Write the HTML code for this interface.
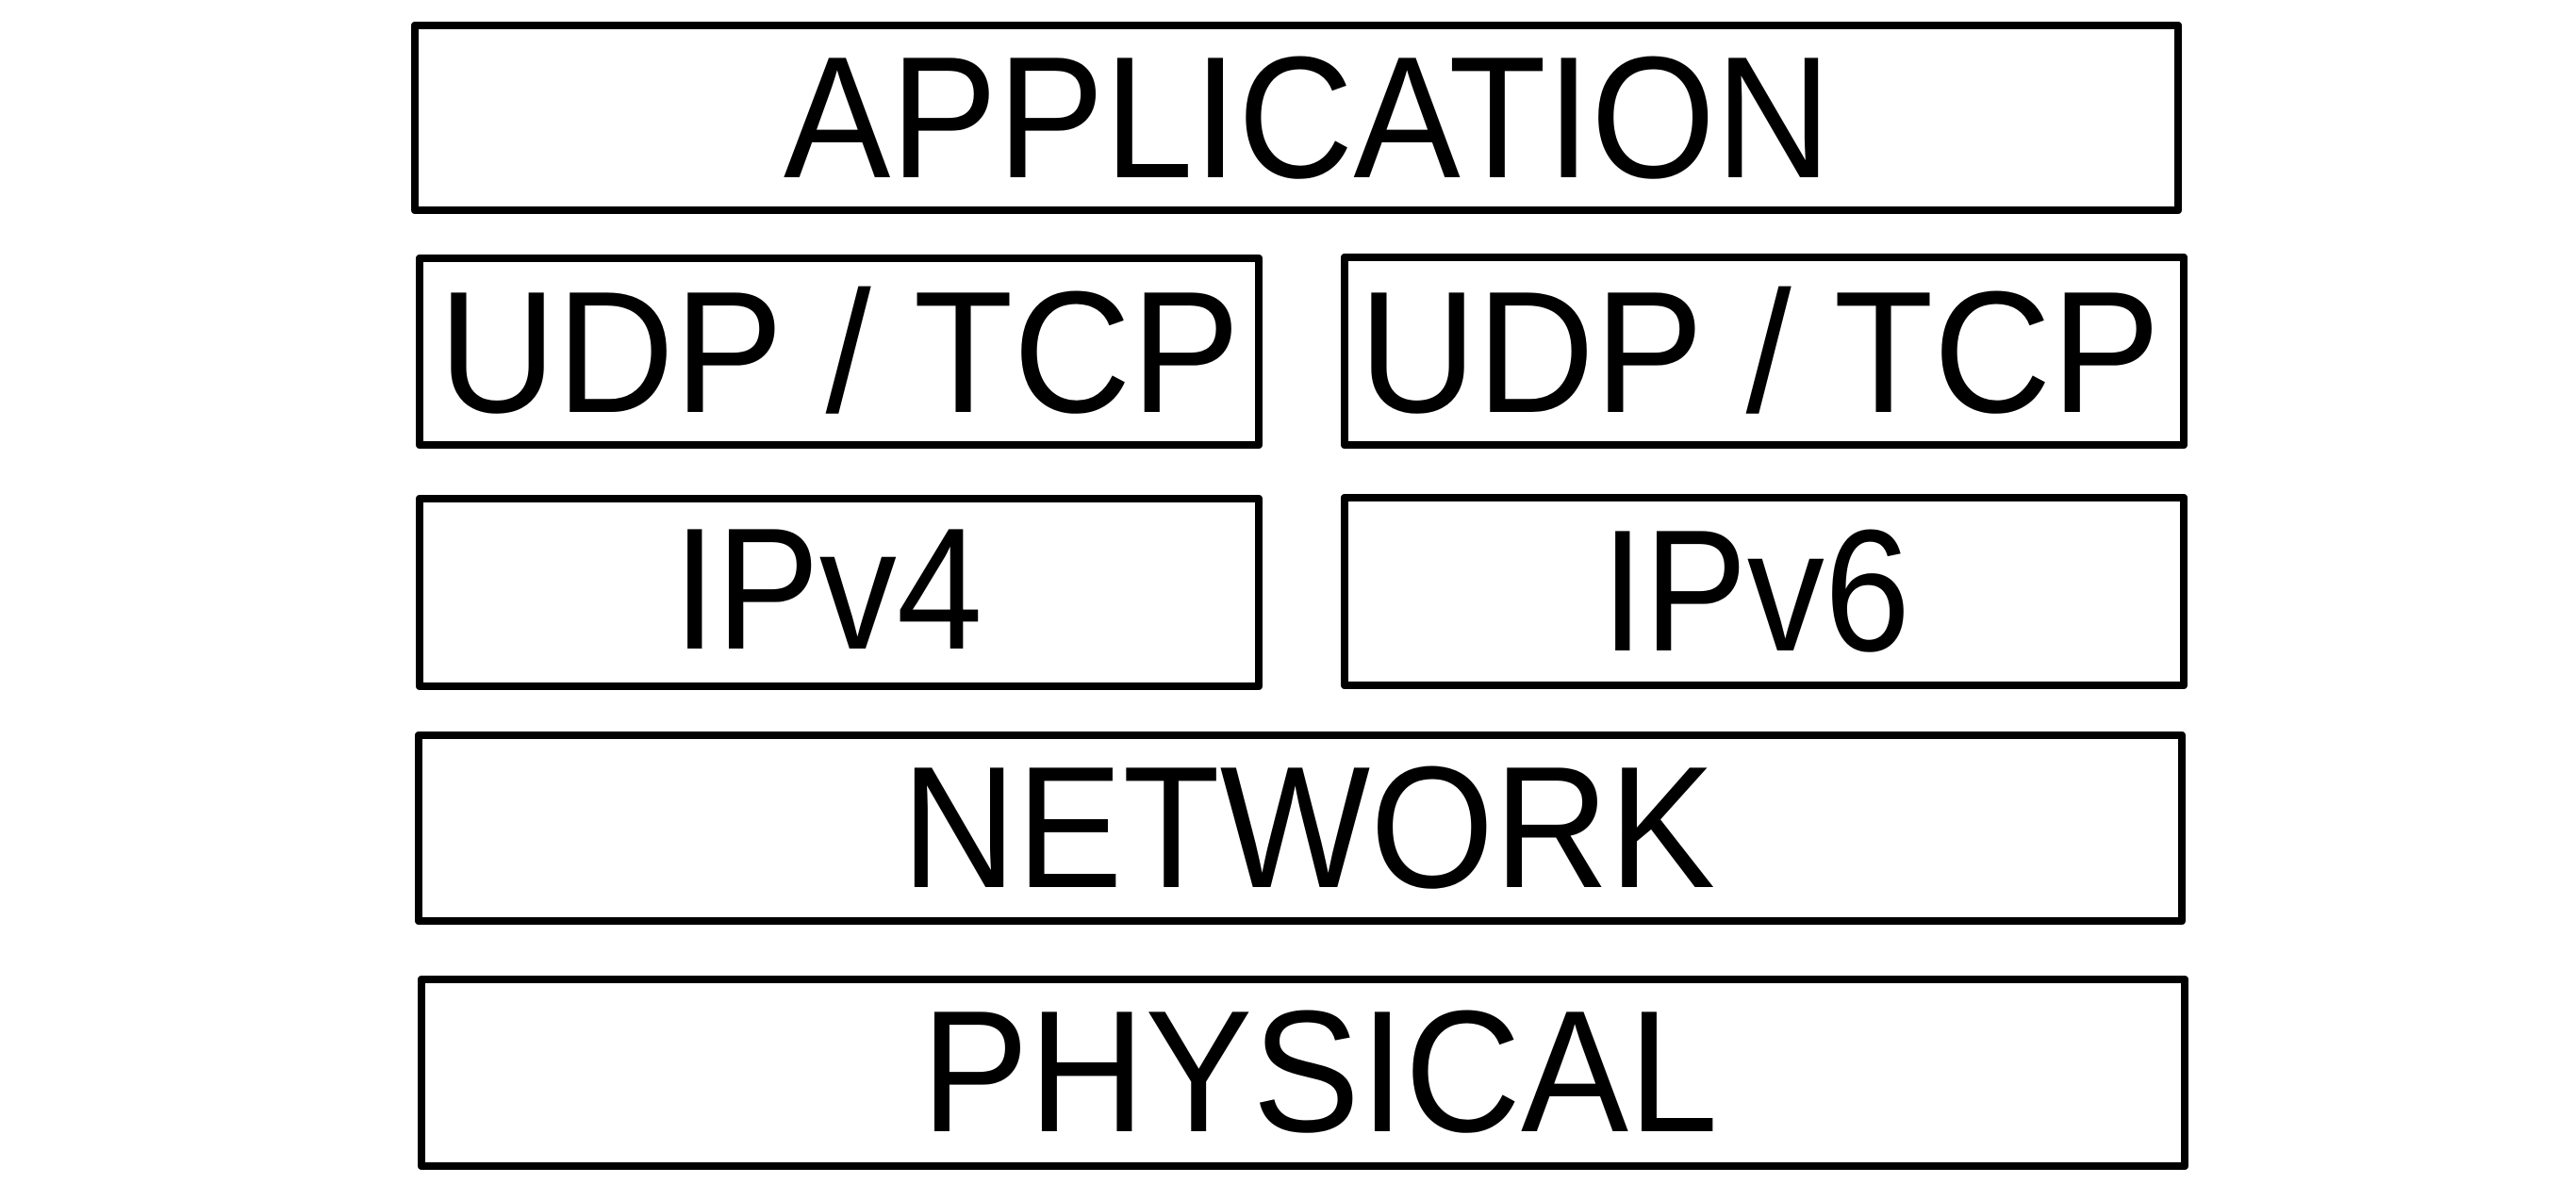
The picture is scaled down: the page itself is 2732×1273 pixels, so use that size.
<!DOCTYPE html>
<html><head><meta charset="utf-8"><style>html,body{margin:0;padding:0;background:#fff}svg{display:block}</style></head>
<body>
<svg width="2732" height="1273" viewBox="0 0 2732 1273" xmlns="http://www.w3.org/2000/svg">
<g fill="none" stroke="#000" stroke-width="8" stroke-linejoin="round">
<rect x="440" y="27" width="1870" height="196"/>
<rect x="445" y="274" width="890" height="198"/>
<rect x="1426" y="273" width="890" height="199"/>
<rect x="445" y="529" width="890" height="199"/>
<rect x="1426" y="528" width="890" height="199"/>
<rect x="444" y="780" width="1870" height="197"/>
<rect x="447" y="1039" width="1870" height="198"/>
</g>
<g font-family="Liberation Sans, Arial, sans-serif" font-size="184" fill="#000">
<text x="831" y="188" textLength="1111" lengthAdjust="spacingAndGlyphs">APPLICATION</text>
<text x="465" y="437" textLength="850" lengthAdjust="spacingAndGlyphs">UDP / TCP</text>
<text x="1441" y="437" textLength="850" lengthAdjust="spacingAndGlyphs">UDP / TCP</text>
<text x="714" y="688" textLength="328" lengthAdjust="spacingAndGlyphs">IPv4</text>
<text x="1698" y="690" textLength="328" lengthAdjust="spacingAndGlyphs">IPv6</text>
<text x="956" y="941" textLength="863" lengthAdjust="spacingAndGlyphs">NETWORK</text>
<text x="977" y="1200" textLength="845" lengthAdjust="spacingAndGlyphs">PHYSICAL</text>
</g>
</svg>
</body></html>
